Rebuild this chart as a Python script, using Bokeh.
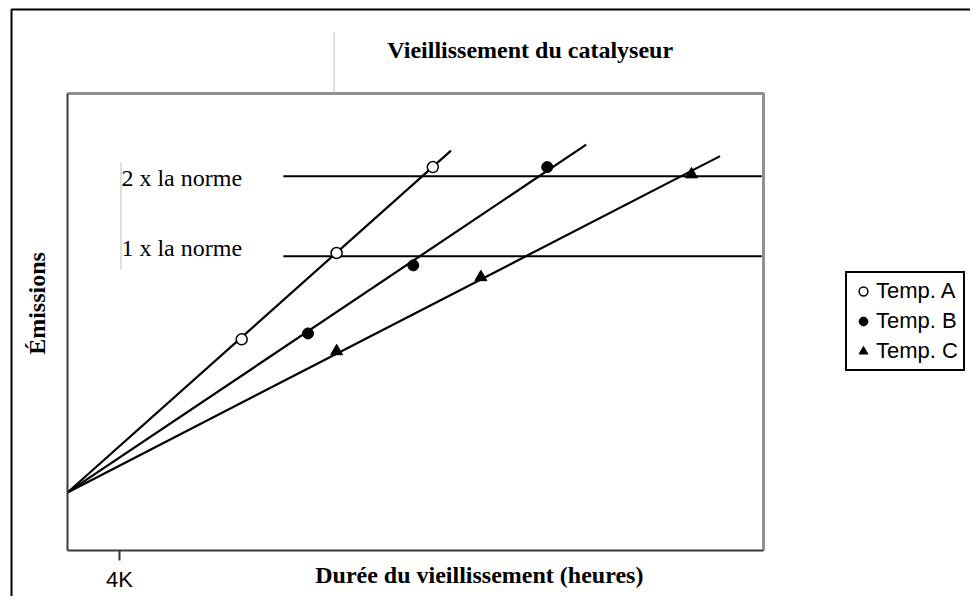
import math
from bokeh.plotting import figure
from bokeh.models import Range1d, FixedTicker, Label, Legend, LegendItem, LinearAxis
from bokeh.embed import file_html
from bokeh.resources import INLINE

# ---------------- data ----------------
series_names = ["Temp. A", "Temp. B", "Temp. C"]
origin_x = 0.0          # thousands of hours
origin_y = 12.7         # emissions (arbitrary units)

temp_a_x = [13.4, 20.7, 28.1]
temp_a_y = [46.2, 65.1, 83.9]
temp_b_x = [18.5, 26.6, 36.9]
temp_b_y = [47.5, 62.4, 83.9]
temp_c_x = [20.7, 31.8, 48.0]
temp_c_y = [43.6, 59.8, 82.3]

line_end_x = [29.5, 39.9, 50.2]
line_end_y = [87.5, 88.8, 86.3]

norm_labels = ["1 x la norme", "2 x la norme"]
norm_y = [64.4, 81.9]
norm_label_y = [66.1, 81.6]
norm_x_start = 16.6
norm_x_end = 53.4
norm_label_x = 4.15

x_ticks = [4]
x_tick_labels = ["4K"]

title_text = "Vieillissement du catalyseur"
x_label_text = "Durée du vieillissement (heures)"
y_label_text = "Émissions"

X_MAX = 53.54   # right end of the plotted box
Y_MAX = 100.0   # top of the plotted box

SERIF = "Liberation Serif"
SANS = "Liberation Sans"

# ---------------- geometry (pixels) ----------------
W, H = 970, 596
BOX_L, BOX_B = 67, 550          # pixel position of data (0, 0)
PX_X = 13.0                     # pixels per x unit
PX_Y = 4.57                     # pixels per y unit
x_start = -BOX_L / PX_X
x_end = (W - BOX_L) / PX_X
y_start = -(H - BOX_B) / PX_Y
y_end = BOX_B / PX_Y

def dx(px):
    return (px - BOX_L) / PX_X

def dy(py):
    return (BOX_B - py) / PX_Y

p = figure(width=W, height=H, output_backend="svg", toolbar_location=None,
           x_range=Range1d(x_start, x_end), y_range=Range1d(y_start, y_end),
           x_axis_location=None, y_axis_location=None, min_border=0)
p.background_fill_color = "white"
p.border_fill_color = "white"
p.outline_line_color = None
for g in p.grid:
    g.visible = False

# outer black frame (left and top edges visible)
p.line([dx(11), dx(11), dx(2000)], [dy(2000), dy(9), dy(9)],
       line_color="black", line_width=2)

# plot box: grey top and right edges
p.line([0, X_MAX, X_MAX], [Y_MAX, Y_MAX, 0], line_color="#8f8f8f", line_width=3)

# axes fixed on the box's left and bottom edges
xa = LinearAxis(fixed_location=0, bounds=(0, X_MAX))
xa.ticker = FixedTicker(ticks=x_ticks, minor_ticks=[])
xa.major_label_overrides = {t: l for t, l in zip(x_ticks, x_tick_labels)}
xa.major_label_text_font = SANS
xa.major_label_text_font_size = "22px"
xa.major_label_text_color = "black"
xa.major_tick_in = 0
xa.major_tick_out = 10
xa.major_tick_line_color = "#333333"
xa.major_tick_line_width = 2
xa.minor_tick_line_color = None
xa.axis_line_color = "#3a3a3a"
xa.axis_line_width = 2
xa.major_label_standoff = 6
p.add_layout(xa, "below")

ya = LinearAxis(fixed_location=0, bounds=(0, Y_MAX))
ya.ticker = FixedTicker(ticks=[])
ya.major_tick_line_color = None
ya.minor_tick_line_color = None
ya.major_label_text_font_size = "0px"
ya.axis_line_color = "#3a3a3a"
ya.axis_line_width = 2
p.add_layout(ya, "left")

# norm lines and their labels
for ny, lbl, ly in zip(norm_y, norm_labels, norm_label_y):
    p.line([norm_x_start, norm_x_end], [ny, ny], line_color="black", line_width=2)
    p.add_layout(Label(x=norm_label_x, y=ly, text=lbl, text_font=SERIF, text_font_size="24px",
                       text_align="left", text_baseline="middle", text_color="black"))

# thin grey guide lines (text-box edges in the original)
p.line([dx(120.5), dx(120.5)], [dy(269), dy(162)], line_color="#bdbdbd", line_width=1)
p.line([dx(333.5), dx(333.5)], [Y_MAX, dy(32)], line_color="#bdbdbd", line_width=1)

# series lines
for ex, ey in zip(line_end_x, line_end_y):
    p.line([origin_x, ex], [origin_y, ey], line_color="black", line_width=2.2)

ra = p.scatter(temp_a_x, temp_a_y, marker="circle", size=11, fill_color="white",
               line_color="black", line_width=1.5)
rb = p.scatter(temp_b_x, temp_b_y, marker="circle", size=11, fill_color="black",
               line_color="black")
rc = p.scatter(temp_c_x, temp_c_y, marker="triangle", size=12, fill_color="black",
               line_color="black")

legend = Legend(items=[LegendItem(label=series_names[0], renderers=[ra]),
                       LegendItem(label=series_names[1], renderers=[rb]),
                       LegendItem(label=series_names[2], renderers=[rc])],
                location=(845, H - 371), orientation="vertical",
                border_line_color="black", border_line_width=2, border_line_alpha=1,
                background_fill_color="white", background_fill_alpha=1,
                padding=5, spacing=4, margin=0,
                label_height=26, glyph_height=26, glyph_width=22, label_standoff=2,
                label_text_font=SANS, label_text_font_size="22px", label_text_color="black")
p.add_layout(legend, "center")

# title and axis labels
p.add_layout(Label(x=dx(529.7), y=dy(49), text=title_text, text_font=SERIF,
                   text_font_size="24px", text_font_style="bold", text_align="center",
                   text_baseline="middle", text_color="black"))
p.add_layout(Label(x=dx(478.8), y=dy(574), text=x_label_text, text_font=SERIF,
                   text_font_size="24px", text_font_style="bold", text_align="center",
                   text_baseline="middle", text_color="black"))
p.add_layout(Label(x=dx(36.7), y=dy(303), text=y_label_text, text_font=SERIF,
                   text_font_size="24px", text_font_style="bold", text_align="center",
                   text_baseline="middle", angle=math.pi / 2, text_color="black"))

open("out.html", "w").write(file_html(p, INLINE))
